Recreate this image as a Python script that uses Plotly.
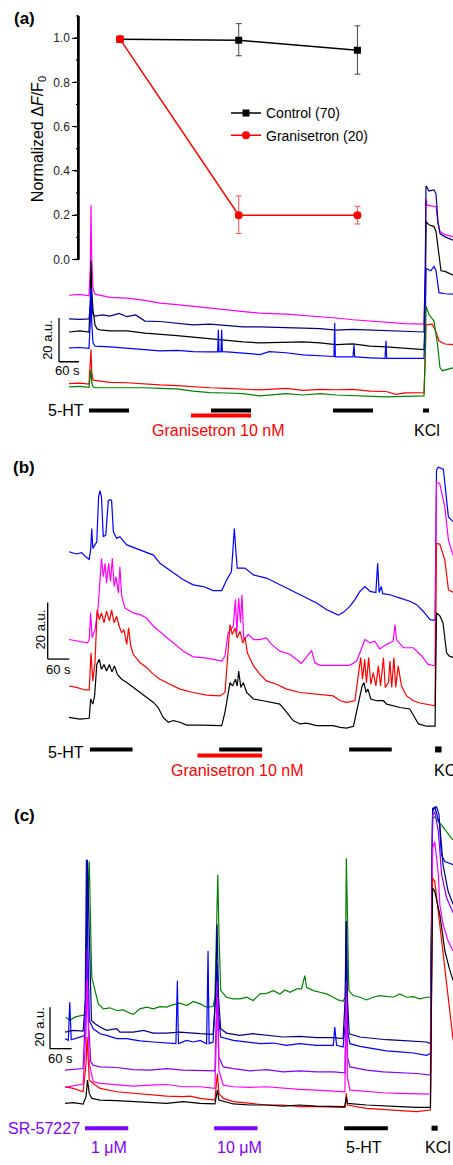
import plotly.graph_objects as go

FONT = "Liberation Sans, Arial, sans-serif"
MAGENTA, NAVY, BLUE, RED, GREEN, PURPLE, BLACK = "#FF00FF", "#000080", "#0000FF", "#FF0000", "#008000", "#8000FF", "#000000"

# ---------------- Panel (a) inset: normalized dF/F0 ----------------
inset_x = [1, 2, 3]
ctrl_y = [0.995, 0.99, 0.945]
ctrl_err_plus = [0, 0.075, 0.11]
ctrl_err_minus = [0, 0.07, 0.108]
gran_y = [0.995, 0.20, 0.20]
gran_err_plus = [0, 0.087, 0.04]
gran_err_minus = [0, 0.083, 0.04]
inset_major = [0.0, 0.2, 0.4, 0.6, 0.8, 1.0]
inset_minor = [0.1, 0.3, 0.5, 0.7, 0.9, 1.1]
INSET_YMAX = 1.1

# ---------------- Panel (a) traces (time s, fluorescence a.u.) ----------------
a_t_mag = [0, 33, 60, 64, 66, 68, 72, 78, 123, 174, 228, 273, 324, 372, 423, 474, 522, 573, 651, 702, 753, 801, 852, 903, 951, 1008, 1065, 1069, 1071, 1074, 1101, 1107, 1113, 1128, 1152]
a_v_mag = [46.8, 47.2, 46.5, 60, 87.9, 65, 50, 47.3, 45.8, 45.5, 44.5, 43.2, 42.5, 41.8, 41.0, 40.1, 39.5, 38.6, 38.2, 37.6, 37.3, 36.4, 35.6, 35.0, 34.5, 33.8, 33.6, 60, 90.9, 88, 87.3, 80, 75.9, 74.5, 73.6]
a_t_navy = [0, 33, 60, 64, 66, 68, 72, 78, 100, 123, 150, 174, 200, 228, 273, 324, 372, 423, 474, 522, 573, 651, 702, 753, 801, 852, 903, 951, 1008, 1065, 1069, 1071, 1080, 1095, 1101, 1107, 1113, 1128, 1152]
a_v_navy = [36, 35.8, 36, 42, 50, 42, 38, 37.3, 37.8, 37.3, 38.5, 37, 37.8, 35, 34.8, 34.1, 33.3, 33.6, 32.8, 32.3, 32.3, 31.8, 31.8, 31.5, 30.9, 31.2, 30.9, 30.6, 30.0, 30.0, 60, 96.8, 94.5, 95, 93.2, 80, 75, 73.5, 72]
a_t_black = [0, 33, 60, 64, 66, 68, 72, 78, 84, 93, 123, 174, 228, 273, 324, 372, 423, 474, 522, 573, 651, 702, 753, 801, 852, 903, 951, 1008, 1065, 1069, 1071, 1080, 1095, 1101, 1110, 1116, 1128, 1152]
a_v_black = [30, 30.5, 30, 45, 62.7, 50, 40, 33.3, 31.5, 31, 30.5, 30.5, 29.5, 28.8, 28.3, 27.7, 27, 26, 25.5, 25, 25.5, 25.5, 25, 24.2, 24.6, 23.5, 23.2, 22.5, 22, 40, 80.5, 79, 78.2, 76, 65, 58, 57.7, 56]
a_t_blue = [0, 33, 60, 64, 66, 68, 72, 78, 123, 174, 228, 273, 324, 372, 423, 446, 448, 450, 454, 456, 458, 460, 474, 522, 573, 600, 651, 702, 753, 795, 797, 799, 852, 855, 857, 859, 903, 948, 951, 953, 1008, 1065, 1069, 1071, 1085, 1095, 1101, 1110, 1128, 1152]
a_v_blue = [22.7, 22.9, 22.5, 35, 50, 35, 25, 23.5, 23.2, 22.7, 22, 21.4, 21.6, 21.0, 20.9, 20.9, 31, 21, 20.9, 20.9, 31, 21, 20.9, 20.2, 19.7, 21, 20.5, 19.5, 19.0, 18.8, 34.1, 18.6, 18.6, 24.2, 18.6, 18.6, 18.2, 17.9, 26, 17.9, 17.9, 17.9, 35, 59.1, 58, 60, 58, 48, 47.5, 47.3]
a_t_red = [0, 33, 60, 64, 66, 68, 72, 78, 123, 174, 228, 273, 324, 372, 423, 474, 522, 573, 651, 702, 753, 801, 852, 903, 951, 981, 1008, 1040, 1065, 1069, 1071, 1090, 1101, 1110, 1128, 1152]
a_v_red = [6.4, 6.6, 6.2, 15, 22, 12, 8, 7.9, 7.0, 6.8, 6.2, 5.8, 5.5, 4.9, 4.5, 4.2, 4.0, 3.5, 4.2, 3.3, 3.8, 3.6, 3.8, 3.0, 2.8, 1.5, 2.2, 2.3, 2.3, 20, 33.3, 33.6, 30, 25.9, 24.5, 24.2]
a_t_green = [0, 33, 60, 64, 66, 68, 72, 78, 123, 174, 228, 273, 324, 372, 423, 474, 522, 573, 651, 702, 753, 801, 852, 903, 951, 1008, 1065, 1069, 1071, 1080, 1095, 1105, 1113, 1120, 1135, 1152]
a_v_green = [4.9, 5.1, 4.7, 9, 12.9, 7, 5, 4.5, 4.5, 4.6, 4.5, 4.2, 4.0, 3.0, 2.3, 2.1, 1.8, 0.8, 1.8, 1.2, 1.8, 1.2, 0.8, 0.7, 0.3, 0.6, 0.8, 20, 41.8, 38, 35, 25, 13.6, 12.3, 13, 13.6]
a_5ht = [(60, 180), (426, 546), (792, 912)]
a_kcl = (1062, 1080)
a_gran = (366, 546)

# ---------------- Panel (b) traces ----------------
b_t_blue = [0, 21, 35, 44, 56, 60, 63, 66, 77, 82, 86, 90, 95, 102, 109, 114, 118, 123, 132, 141, 160, 197, 215, 234, 252, 270, 289, 317, 344, 372, 400, 423, 437, 450, 455, 458, 462, 466, 487, 511, 547, 584, 621, 658, 686, 714, 732, 746, 760, 778, 792, 806, 820, 834, 850, 855, 859, 865, 869, 889, 917, 944, 963, 981, 1000, 1014, 1018, 1023, 1037, 1051, 1065]
b_v_blue = [64.9, 64.1, 64.6, 63.4, 62.2, 65.5, 73.1, 66.1, 68.4, 84.2, 86.5, 84.2, 70.2, 70.8, 83.0, 83.3, 83.0, 71.9, 69.6, 70.2, 67.3, 65.5, 64.6, 63.7, 60.8, 59.1, 57.5, 55.0, 53.2, 52.6, 51.2, 51.2, 55.0, 57.9, 66.7, 73.1, 65.5, 59.1, 59.1, 56.7, 55.6, 53.2, 50.9, 48.5, 46.8, 44.4, 43.3, 42.5, 43.5, 45.6, 48.0, 50.9, 52.6, 50.9, 50.5, 60.8, 50.5, 52.6, 50.1, 49.7, 48.5, 47.4, 46.2, 43.9, 40.9, 40.7, 93.7, 94.7, 94, 77.2, 75.4]
b_t_mag = [0, 30, 51, 56, 60, 64, 72, 81, 86, 90, 95, 100, 104, 110, 115, 120, 125, 130, 137, 141, 146, 155, 178, 197, 215, 234, 261, 289, 317, 344, 372, 400, 423, 432, 441, 455, 461, 465, 470, 475, 479, 484, 497, 511, 529, 547, 561, 584, 612, 644, 672, 681, 695, 732, 778, 797, 810, 820, 834, 847, 861, 880, 898, 903, 907, 926, 954, 977, 995, 1014, 1018, 1027, 1041, 1051, 1065]
b_v_mag = [33.9, 33.3, 32.7, 33.9, 43.3, 34.5, 37.4, 45.6, 55.0, 62.6, 56.1, 60.8, 53.8, 60.8, 54.4, 62.6, 52.6, 56.1, 50.3, 59.6, 49.1, 45.0, 43.3, 42.7, 41.5, 38.6, 35.7, 32.7, 29.8, 27.8, 27.5, 26.9, 26.3, 28.1, 36.3, 38.6, 48.0, 36.3, 48.5, 39.8, 49.7, 33.9, 35.7, 33.9, 33.9, 34.5, 32.2, 29.8, 28.7, 25.5, 30.1, 25.7, 24.8, 24.8, 24.8, 26.3, 31.0, 33.9, 32.7, 33.3, 30.6, 32.2, 33.3, 39.2, 33.9, 31.0, 31.0, 28.1, 25.1, 24.6, 89.5, 88.9, 80.7, 69.0, 63.2]
b_t_red = [0, 21, 44, 56, 61, 66, 72, 78, 84, 90, 97, 104, 112, 118, 125, 132, 139, 146, 152, 160, 165, 171, 178, 197, 215, 234, 252, 280, 307, 344, 381, 418, 432, 441, 446, 452, 460, 466, 474, 481, 488, 494, 501, 511, 529, 547, 575, 603, 640, 686, 732, 751, 769, 792, 801, 808, 813, 819, 824, 830, 836, 843, 850, 857, 863, 871, 876, 885, 889, 894, 900, 905, 912, 921, 935, 954, 972, 991, 1010, 1014, 1018, 1027, 1041, 1051, 1065]
b_v_red = [17.5, 17.0, 16.1, 16.1, 29.2, 19.3, 25.7, 44.4, 40.9, 43.3, 39.8, 43.9, 40.4, 44.4, 39.8, 42.1, 38.6, 36.3, 37.4, 32.2, 38.0, 31.6, 28.7, 25.7, 24.0, 21.6, 19.9, 18.1, 16.4, 15.2, 14.3, 14.0, 15.2, 30.4, 39.2, 35.7, 38.0, 34.5, 36.8, 32.7, 34.5, 29.2, 27.5, 24.6, 21.6, 19.3, 18.1, 16.4, 15.2, 14.6, 14.0, 12.3, 11.7, 12.3, 19.9, 27.5, 19.9, 26.9, 18.7, 27.5, 18.1, 22.2, 17.5, 24.6, 17.5, 27.5, 17.0, 18.7, 26.3, 17.0, 27.5, 17.0, 24.6, 17.5, 14.0, 12.3, 11.5, 11.1, 10.5, 10.5, 67.8, 67.6, 62.0, 51.5, 50.5]
b_t_black = [0, 30, 56, 60, 66, 71, 77, 84, 90, 97, 104, 112, 119, 126, 134, 146, 160, 178, 197, 215, 234, 247, 261, 275, 289, 307, 326, 363, 400, 423, 432, 439, 446, 453, 461, 466, 470, 476, 483, 492, 511, 538, 566, 584, 603, 621, 640, 658, 686, 732, 751, 769, 788, 797, 804, 812, 817, 823, 828, 836, 852, 871, 880, 917, 944, 954, 968, 991, 1014, 1018, 1027, 1036, 1046, 1053, 1065]
b_v_black = [6.4, 5.8, 6.1, 12.9, 11.1, 14.0, 25.1, 26.9, 23.4, 25.1, 22.8, 25.1, 22.5, 24.6, 21.6, 19.9, 18.7, 17.0, 15.2, 13.5, 11.7, 9.9, 6.4, 4.7, 5.3, 4.7, 3.7, 3.7, 3.5, 3.5, 8.2, 12.9, 18.7, 17.5, 19.9, 17.5, 22.8, 17.0, 18.7, 15.2, 12.9, 12.3, 11.5, 11.1, 8.2, 5.3, 4.1, 4.4, 3.5, 3.5, 2.9, 2.6, 3.3, 8.2, 12.9, 17.5, 18.7, 15.2, 16.4, 12.9, 12.3, 12.3, 11.1, 9.9, 9.4, 7.0, 4.1, 3.3, 3.3, 43.3, 42.3, 39.8, 29.2, 28.1, 27.5]
b_5ht = [(58, 176), (416, 535), (776, 894)]
b_kcl = (1014, 1032)
b_gran = (356, 535)

# ---------------- Panel (c) traces ----------------
c_t_green = [7, 18, 32, 51, 60, 66, 69, 72, 76, 79, 88, 97, 111, 129, 148, 166, 185, 194, 212, 231, 249, 268, 286, 305, 323, 342, 360, 379, 397, 415, 420, 425, 428, 431, 436, 452, 471, 489, 508, 526, 545, 563, 582, 600, 614, 628, 646, 660, 669, 674, 692, 711, 729, 748, 761, 775, 781, 784, 787, 791, 803, 822, 840, 858, 877, 895, 914, 932, 951, 969, 988, 1006, 1017, 1023, 1029, 1051, 1079]
c_v_green = [32.0, 30.4, 32.0, 32.8, 32.8, 57.6, 92.7, 107.1, 73.5, 51.2, 44.8, 38.4, 36.0, 36.5, 35.2, 35.5, 33.9, 33.3, 36.0, 36.8, 36.0, 37.1, 36.8, 38.0, 38.7, 37.6, 39.6, 38.4, 36.8, 37.1, 41.6, 81.5, 100.7, 73.5, 44.8, 41.6, 40.8, 40.8, 41.6, 40.0, 43.2, 43.5, 44.8, 43.2, 45.1, 44.0, 45.6, 45.6, 52.0, 46.4, 44.8, 44.0, 43.2, 41.6, 40.3, 39.6, 41.6, 108.7, 73.5, 44.8, 42.4, 41.6, 40.3, 41.6, 42.4, 41.9, 41.6, 43.2, 41.6, 41.9, 40.8, 41.6, 41.6, 127.9, 128.7, 123.9, 117.5]
c_t_blue = [5, 14, 18, 22, 42, 60, 64, 67, 72, 83, 102, 120, 148, 175, 212, 249, 286, 312, 316, 319, 342, 360, 379, 397, 401, 404, 415, 422, 426, 430, 436, 471, 508, 545, 582, 618, 655, 701, 748, 752, 757, 775, 781, 784, 787, 794, 822, 858, 895, 932, 969, 1006, 1017, 1023, 1034, 1041, 1047, 1057, 1080]
c_v_blue = [21.6, 20.8, 39.2, 21.1, 22.1, 23.2, 107.9, 73.5, 30.4, 26.4, 24.0, 23.2, 21.6, 21.6, 20.5, 20.0, 19.5, 19.2, 49.6, 19.2, 20.8, 20.0, 20.8, 19.2, 63.9, 19.2, 20.0, 41.6, 57.6, 32.0, 22.4, 20.8, 20.0, 19.2, 19.5, 18.4, 19.2, 18.4, 18.4, 27.2, 18.4, 17.6, 28.8, 78.3, 25.6, 19.2, 17.9, 16.8, 15.7, 15.2, 14.7, 13.6, 14.4, 132.7, 133.5, 129.5, 110.3, 107.1, 105.5]
c_t_navy = [5, 28, 55, 62, 67, 72, 78, 88, 102, 120, 148, 157, 194, 222, 249, 286, 323, 379, 415, 422, 426, 430, 436, 452, 489, 526, 563, 609, 655, 701, 748, 775, 781, 784, 787, 792, 822, 858, 895, 932, 969, 1006, 1017, 1023, 1029, 1043, 1052, 1066, 1080]
c_v_navy = [24.8, 25.6, 25.3, 41.6, 107.9, 67.1, 30.4, 28.8, 27.2, 25.6, 26.4, 24.8, 24.8, 25.6, 24.3, 24.3, 24.8, 24.0, 23.7, 41.6, 76.7, 41.6, 26.4, 24.3, 23.2, 24.0, 23.2, 22.4, 22.7, 22.1, 22.1, 21.6, 41.6, 78.3, 41.6, 24.0, 22.4, 21.6, 21.1, 20.8, 20.5, 20.0, 19.2, 131.1, 133.5, 124.7, 105.5, 92.7, 86.3]
c_t_purple = [5, 28, 55, 63, 66, 70, 76, 83, 102, 148, 194, 240, 286, 332, 379, 420, 425, 427, 431, 443, 471, 517, 563, 609, 655, 701, 748, 780, 784, 787, 794, 840, 886, 932, 978, 1017, 1023, 1029, 1039, 1048, 1062, 1080]
c_v_purple = [6.4, 6.7, 7.2, 41.6, 65.5, 28.8, 10.4, 8.8, 8.0, 7.7, 6.7, 6.4, 7.2, 6.4, 6.1, 6.1, 41.6, 49.6, 12.8, 8.0, 7.2, 6.1, 6.7, 5.6, 6.1, 5.6, 5.6, 5.1, 49.6, 12.8, 8.0, 6.4, 5.6, 5.1, 4.8, 4.0, 129.5, 131.1, 121.5, 100.7, 89.5, 82.3]
c_t_mag = [5, 28, 55, 63, 66, 72, 83, 102, 148, 194, 240, 286, 332, 379, 420, 425, 427, 431, 443, 471, 517, 563, 609, 655, 701, 748, 780, 784, 787, 794, 840, 886, 932, 978, 1017, 1023, 1029, 1039, 1043, 1052, 1066, 1080]
c_v_mag = [-1.9, -1.3, -0.3, 25.6, 49.6, 9.6, 0.8, 0.0, -0.8, -1.3, -0.8, -0.5, -1.6, -1.6, -2.4, 25.6, 41.6, 6.4, -0.8, -1.6, -1.9, -1.6, -2.4, -2.9, -3.2, -3.5, -4.0, 41.6, 3.2, -3.2, -4.0, -4.5, -4.8, -5.1, -5.1, 113.5, 116.7, 100.7, 86.3, 76.7, 68.7, 63.9]
c_t_red = [5, 28, 55, 63, 66, 72, 83, 102, 148, 194, 240, 286, 332, 351, 379, 420, 425, 427, 431, 443, 471, 517, 563, 609, 655, 701, 748, 780, 784, 787, 840, 886, 932, 978, 1017, 1023, 1029, 1043, 1057, 1071, 1080]
c_v_red = [-1.6, -2.4, -4.0, 9.6, 22.4, 1.6, 0.0, -2.4, -4.0, -4.8, -5.6, -6.1, -6.4, -6.1, -7.2, -8.0, 1.6, 4.8, -4.8, -7.2, -8.8, -9.6, -10.4, -10.4, -11.2, -11.2, -11.2, -11.5, -4.8, -10.4, -12.0, -12.5, -12.8, -13.6, -12.8, 99.1, 97.5, 76.7, 54.4, 32.0, 20.8]
c_t_black = [5, 28, 55, 63, 67, 72, 79, 102, 148, 194, 240, 286, 332, 379, 420, 425, 427, 431, 471, 517, 563, 609, 655, 701, 748, 780, 784, 787, 840, 886, 932, 978, 1017, 1023, 1029, 1043, 1057, 1071, 1080]
c_v_black = [-9.6, -9.3, -9.9, -6.4, 1.6, -4.8, -7.2, -8.0, -8.3, -8.8, -9.3, -9.6, -8.8, -9.6, -9.9, -4.8, -3.2, -8.0, -9.9, -10.4, -10.4, -10.9, -10.4, -10.9, -10.9, -11.2, -6.4, -9.6, -10.4, -10.9, -11.2, -11.5, -11.5, 94.3, 92.7, 81.5, 63.9, 54.4, 49.6]
c_sr = [(60, 180), (418, 538)]
c_5ht = (778, 899)
c_kcl = (1020, 1037)

# scale bars: corner (time s, a.u.), 60 s x 20 a.u.
SB_T, SB_AU = 60, 20
sb_a = (-30, 16.4)
sb_b = (-59, 27.0)
sb_c = (-36.8, 16.8)

W, H = 453, 1165
def fy(py):
    return 1 - py / H

# inset plot box (pixels)
IN_LEFT, IN_TOP, IN_BOTTOM = 79, 16, 261
IN_Y0, IN_Y1 = fy(IN_BOTTOM), fy(IN_TOP)

fig = go.Figure()

# inset traces
fig.add_trace(go.Scatter(
    x=inset_x, y=ctrl_y, mode="lines+markers", name="Control (70)", legendgroup="c",
    line=dict(color=BLACK, width=1.5), marker=dict(symbol="square", size=7, color=BLACK),
    error_y=dict(type="data", array=ctrl_err_plus, arrayminus=ctrl_err_minus,
                 color="#444444", thickness=1, width=3),
    xaxis="x", yaxis="y"))
fig.add_trace(go.Scatter(
    x=inset_x, y=gran_y, mode="lines+markers", name="Granisetron (20)", legendgroup="g",
    line=dict(color=RED, width=1.5), marker=dict(symbol="circle", size=8, color=RED),
    error_y=dict(type="data", array=gran_err_plus, arrayminus=gran_err_minus,
                 color="#FF5050", thickness=1, width=3),
    xaxis="x", yaxis="y"))
# shared starting point drawn as a red square on top
fig.add_trace(go.Scatter(
    x=inset_x[:1], y=gran_y[:1], mode="markers", showlegend=False,
    marker=dict(symbol="square", size=7, color=RED), xaxis="x", yaxis="y", hoverinfo="skip"))

def add_line(t, v, color, n):
    fig.add_trace(go.Scatter(x=t, y=v, mode="lines", line=dict(color=color, width=1.2),
                             xaxis="x" + n, yaxis="y" + n, showlegend=False, hoverinfo="skip"))

for t, v, c in [(a_t_mag, a_v_mag, MAGENTA), (a_t_black, a_v_black, BLACK), (a_t_navy, a_v_navy, NAVY),
                (a_t_blue, a_v_blue, BLUE), (a_t_red, a_v_red, RED), (a_t_green, a_v_green, GREEN)]:
    add_line(t, v, c, "2")
for t, v, c in [(b_t_blue, b_v_blue, BLUE), (b_t_mag, b_v_mag, MAGENTA), (b_t_red, b_v_red, RED),
                (b_t_black, b_v_black, BLACK)]:
    add_line(t, v, c, "3")
for t, v, c in [(c_t_green, c_v_green, GREEN), (c_t_blue, c_v_blue, BLUE), (c_t_navy, c_v_navy, NAVY),
                (c_t_purple, c_v_purple, PURPLE), (c_t_mag, c_v_mag, MAGENTA), (c_t_red, c_v_red, RED),
                (c_t_black, c_v_black, BLACK)]:
    add_line(t, v, c, "4")

shapes = []
annotations = []

# inset y-axis spine and ticks, in paper coordinates (unclipped)
def inset_paper_y(v):
    return IN_Y0 + v / INSET_YMAX * (IN_Y1 - IN_Y0)

AX_X = IN_LEFT / W
shapes.append(dict(type="line", xref="paper", yref="paper", x0=AX_X, x1=AX_X,
                   y0=inset_paper_y(0), y1=inset_paper_y(INSET_YMAX),
                   line=dict(color=BLACK, width=1.5), layer="above"))
for v in inset_major:
    shapes.append(dict(type="line", xref="paper", yref="paper", x0=AX_X - 5 / W, x1=AX_X,
                       y0=inset_paper_y(v), y1=inset_paper_y(v),
                       line=dict(color=BLACK, width=1.4), layer="above"))
for v in inset_minor:
    shapes.append(dict(type="line", xref="paper", yref="paper", x0=AX_X - 3 / W, x1=AX_X,
                       y0=inset_paper_y(v), y1=inset_paper_y(v),
                       line=dict(color=BLACK, width=1.2), layer="above"))

def bar(x0, x1, y, n, color=BLACK, w=4):
    shapes.append(dict(type="line", xref="x" + n, yref="y" + n, x0=x0, x1=x1, y0=y, y1=y,
                       line=dict(color=color, width=w)))

def scalebar(corner, n):
    x0, y0 = corner
    shapes.append(dict(type="line", xref="x" + n, yref="y" + n, x0=x0, x1=x0, y0=y0, y1=y0 + SB_AU,
                       line=dict(color=BLACK, width=1.3)))
    shapes.append(dict(type="line", xref="x" + n, yref="y" + n, x0=x0, x1=x0 + SB_T, y0=y0, y1=y0,
                       line=dict(color=BLACK, width=1.3)))

def txt(x, y, s, n, size=16, color=BLACK, xanchor="center", angle=0):
    annotations.append(dict(x=x, y=y, xref="x" + n, yref="y" + n, text=s, showarrow=False,
                            xanchor=xanchor, yanchor="middle", textangle=angle,
                            font=dict(family=FONT, size=size, color=color)))

# panel (a) protocol
for s0, s1 in a_5ht:
    bar(s0, s1, -5.9, "2")
bar(a_kcl[0], a_kcl[1], -5.9, "2")
bar(a_gran[0], a_gran[1], -8.2, "2", RED)
scalebar(sb_a, "2")
txt(51, -5.9, "5-HT", "2", xanchor="right")
txt(447, -15, "Granisetron 10 nM", "2", color=RED)
txt(1074, -15, "KCl", "2")
txt(-63, 26.4, "20 a.u.", "2", size=13, angle=-90)
txt(-6, 12.3, "60 s", "2", size=13)

# panel (b) protocol
for s0, s1 in b_5ht:
    bar(s0, s1, -4.9, "3")
bar(b_kcl[0], b_kcl[1], -4.9, "3", w=6)
bar(b_gran[0], b_gran[1], -7.0, "3", RED)
scalebar(sb_b, "3")
txt(47, -6.0, "5-HT", "3", xanchor="right")
txt(467, -12.3, "Granisetron 10 nM", "3", color=RED)
txt(1005, -12.3, "KCl", "3", xanchor="left")
txt(-80, 37.5, "20 a.u.", "3", size=13, angle=-90)
txt(-28, 23.2, "60 s", "3", size=13)

# panel (c) protocol
for s0, s1 in c_sr:
    bar(s0, s1, -21.6, "4", PURPLE)
bar(c_5ht[0], c_5ht[1], -21.6, "4")
bar(c_kcl[0], c_kcl[1], -21.6, "4", w=5)
scalebar(sb_c, "4")
txt(52, -21.6, "SR-57227", "4", color=PURPLE, xanchor="right")
txt(127, -30.7, "1 μM", "4", color=PURPLE)
txt(488, -30.7, "10 μM", "4", color=PURPLE)
txt(834, -30.7, "5-HT", "4")
txt(1039, -30.7, "KCl", "4")
txt(-64.5, 27.3, "20 a.u.", "4", size=13, angle=-90)
txt(-6.4, 12.0, "60 s", "4", size=13)

# inset extras
annotations.append(dict(x=2, y=1.105, xref="x", yref="y", text="***", showarrow=False,
                        xanchor="center", yanchor="middle",
                        font=dict(family=FONT, size=13, color=BLACK)))
annotations.append(dict(x=38 / W, y=fy(140), xref="paper", yref="paper",
                        text="Normalized Δ<i>F</i>/F<sub>0</sub>", showarrow=False, textangle=-90,
                        xanchor="center", yanchor="middle",
                        font=dict(family=FONT, size=16, color=BLACK)))
for lab, py in [("(a)", 19), ("(b)", 470), ("(c)", 820)]:
    annotations.append(dict(x=24 / W, y=fy(py), xref="paper", yref="paper", text="<b>" + lab + "</b>",
                            showarrow=False, xanchor="center", yanchor="middle",
                            font=dict(family=FONT, size=17, color=BLACK)))

hidden = dict(visible=False, showgrid=False, zeroline=False)
fig.update_layout(
    width=W, height=H, margin=dict(l=0, r=0, t=0, b=0),
    paper_bgcolor="white", plot_bgcolor="rgba(0,0,0,0)",
    font=dict(family=FONT, color=BLACK),
    showlegend=True,
    legend=dict(x=226 / W, y=fy(98), xanchor="left", yanchor="top", bgcolor="rgba(0,0,0,0)",
                font=dict(family=FONT, size=14, color=BLACK), tracegroupgap=1, itemwidth=30),
    xaxis=dict(domain=[IN_LEFT / W, 1], range=[0.6546, 3.805], anchor="y", visible=True,
               showline=False, showticklabels=False, ticks="", showgrid=False, zeroline=False),
    yaxis=dict(domain=[IN_Y0, IN_Y1], range=[0, INSET_YMAX], anchor="x", side="left",
               showline=True, linecolor=BLACK, linewidth=1.5,
               ticks="outside", ticklen=5, tickwidth=1.4, tickcolor=BLACK,
               tickmode="array", tickvals=inset_major, ticktext=["%.1f" % v for v in inset_major],
               tickfont=dict(family=FONT, size=12, color="#222222"),
               showgrid=False, zeroline=False),
    xaxis2=dict(domain=[0, 1], range=[-207, 1152], anchor="y2", **hidden),
    yaxis2=dict(domain=[fy(440), fy(180)], range=[-18.18, 100], anchor="x2", **hidden),
    xaxis3=dict(domain=[0, 1], range=[-191.1, 1063.7], anchor="y3", **hidden),
    yaxis3=dict(domain=[fy(790), fy(460)], range=[-17.54, 98.25], anchor="x3", **hidden),
    xaxis4=dict(domain=[0, 1], range=[-175.3, 1079.5], anchor="y4", **hidden),
    yaxis4=dict(domain=[0, fy(810)], range=[-35.97, 134.29], anchor="x4", **hidden),
    shapes=shapes, annotations=annotations,
)

fig.write_html("out.html")
